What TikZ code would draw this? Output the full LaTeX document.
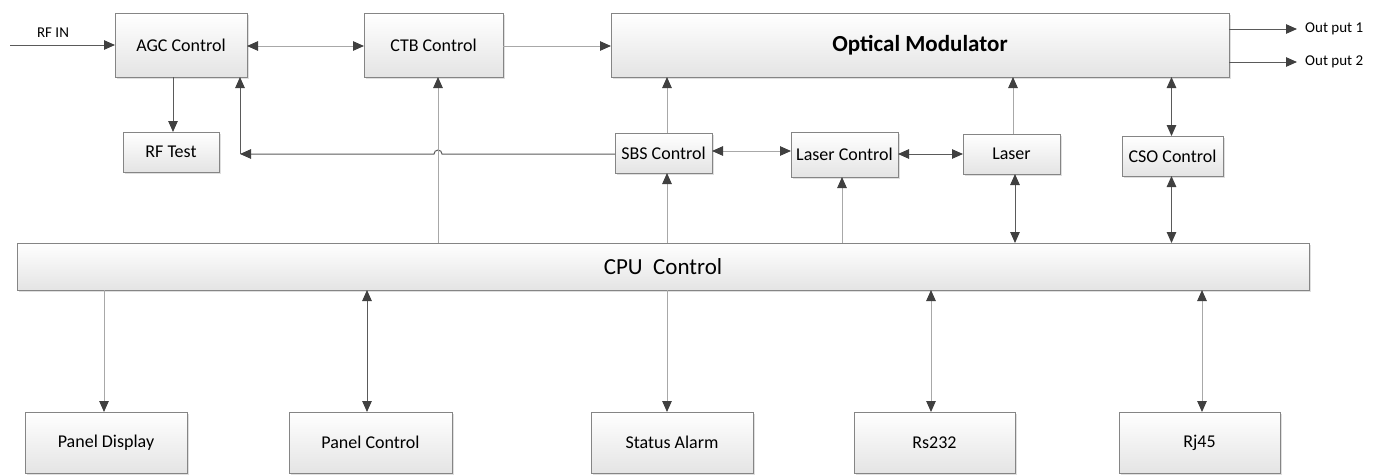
\documentclass[tikz,border=0pt]{standalone}
\usepackage{fontspec}
\setmainfont{Carlito}
\usetikzlibrary{arrows.meta,shadows,calc}
\definecolor{boxline}{HTML}{858585}
\definecolor{boxbot}{HTML}{E4E4E4}
\definecolor{lndark}{HTML}{5A5A5A}
\definecolor{lnlight}{HTML}{A8A8A8}
\definecolor{tipc}{HTML}{404040}
\begin{document}
\begin{tikzpicture}[x=1pt,y=-1pt,
  box/.style={draw=boxline, line width=1pt, top color=white, bottom color=boxbot,
    inner sep=0pt, outer sep=0pt, font=\fontsize{18}{20}\selectfont,
    drop shadow={shadow xshift=1.5pt, shadow yshift=-1.5pt, fill=black!25, opacity=0.5}},
  tip/.tip={Triangle[length=11pt,width=9.5pt,color=tipc]},
  arr/.style={-tip, draw=lndark, line width=1pt},
  darr/.style={tip-tip, draw=lndark, line width=1pt},
  larr/.style={-tip, draw=lnlight, line width=1pt},
  ldarr/.style={tip-tip, draw=lnlight, line width=1pt},
  lbl/.style={font=\fontsize{15}{17}\selectfont, inner sep=0pt}
]
\useasboundingbox (0,0) rectangle (1385,475);

% top row
\node[box, minimum width=132pt, minimum height=64pt] (agc) at (181,45) {AGC Control};
\node[box, minimum width=139pt, minimum height=64pt] (ctb) at (433.5,45) {CTB Control};
\node[box, minimum width=618pt, minimum height=64pt, font=\fontsize{23}{25}\selectfont\bfseries] (om) at (920,45) {Optical Modulator};

% middle row
\node[box, minimum width=96pt, minimum height=40pt] (rft) at (171,152) {RF Test};
\node[box, minimum width=97pt, minimum height=40pt] (sbs) at (663.5,153) {SBS Control};
\node[box, minimum width=107pt, minimum height=45pt] (lc) at (844.5,154.5) {Laser Control};
\node[box, minimum width=97pt, minimum height=40pt] (laser) at (1011.5,154) {Laser};
\node[box, minimum width=101pt, minimum height=40pt] (cso) at (1172.5,156) {CSO Control};

% CPU
\node[box, minimum width=1292pt, minimum height=47pt, font=\fontsize{23}{25}\selectfont] (cpu) at (663,266.5) {CPU\ \ Control};

% bottom row
\node[box, minimum width=162pt, minimum height=61pt] (pd) at (106,442.5) {Panel Display};
\node[box, minimum width=163pt, minimum height=61pt] (pc) at (370.5,442.5) {Panel Control};
\node[box, minimum width=162pt, minimum height=61pt] (sa) at (672,442.5) {Status Alarm};
\node[box, minimum width=161pt, minimum height=61pt] (rs) at (934.5,442.5) {Rs232};
\node[box, minimum width=161pt, minimum height=61pt] (rj) at (1199.5,442.5) {Rj45};

% labels and free ends
\coordinate (rfin) at (10,45);
\node[lbl] (rfinl) at (53,33) {RF IN};
\coordinate (o1) at (1297,29);
\coordinate (o2) at (1297,62);
\node[lbl, anchor=west] (o1l) at (1305,29) {Out put 1};
\node[lbl, anchor=west] (o2l) at (1305,62) {Out put 2};

% x positions of vertical connectors
\coordinate (xrf) at (173,0);
\coordinate (xctb) at (438,0);
\coordinate (xsbs) at (667,0);
\coordinate (xlc) at (842,0);
\coordinate (xlo) at (1013,0);
\coordinate (xlz) at (1015,0);
\coordinate (xcso) at (1171.5,0);
\coordinate (xpd) at (104,0);
\coordinate (xpc) at (367,0);
\coordinate (xsa) at (667,0);
\coordinate (xrs) at (931,0);
\coordinate (xrj) at (1202,0);
\coordinate (fb) at (240,154);
\coordinate (ysl) at (0,151);

% top connectors
\draw[arr] (rfin) -- (agc.west |- rfin);
\draw[ldarr] ([yshift=-1pt]agc.east) -- ([yshift=-1pt]ctb.west);
\draw[larr] ([yshift=-1pt]ctb.east) -- ([yshift=-1pt]om.west);
\draw[arr] (om.east |- o1) -- (o1);
\draw[arr] (om.east |- o2) -- (o2);
\draw[arr] (agc.south -| xrf) -- (rft.north -| xrf);

% feedback SBS -> AGC with hop over CTB line
\draw[arr] (sbs.west |- fb) -- ($(xctb |- fb)+(4,0)$) arc[start angle=0,end angle=180,radius=4pt] -- (fb);
\draw[arr] (fb) -- (agc.south -| fb);

% CTB line from CPU
\draw[larr] (cpu.north -| xctb) -- (ctb.south -| xctb);

% SBS
\draw[larr] (sbs.north -| xsbs) -- (om.south -| xsbs);
\draw[larr] (cpu.north -| xsbs) -- (sbs.south -| xsbs);
\draw[ldarr] (sbs.east |- ysl) -- (lc.west |- ysl);
\draw[darr] (lc.east |- laser.west) -- (laser.west);
\draw[larr] (cpu.north -| xlc) -- (lc.south -| xlc);
\draw[larr] (laser.north -| xlo) -- (om.south -| xlo);
\draw[darr] (laser.south -| xlz) -- (cpu.north -| xlz);
\draw[darr] (om.south -| xcso) -- (cso.north -| xcso);
\draw[darr] (cso.south -| xcso) -- (cpu.north -| xcso);

% bottom connectors
\draw[larr] (cpu.south -| xpd) -- (pd.north -| xpd);
\draw[darr] (cpu.south -| xpc) -- (pc.north -| xpc);
\draw[larr] (cpu.south -| xsa) -- (sa.north -| xsa);
\draw[ldarr] (cpu.south -| xrs) -- (rs.north -| xrs);
\draw[ldarr] (cpu.south -| xrj) -- (rj.north -| xrj);
\end{tikzpicture}
\end{document}
